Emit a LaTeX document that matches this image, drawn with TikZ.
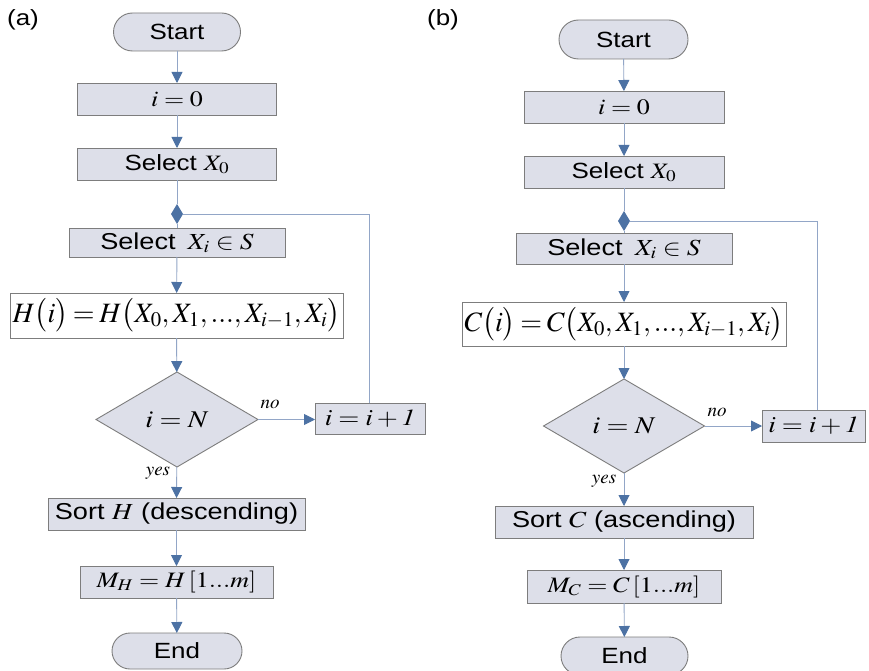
\documentclass[tikz,border=0pt]{standalone}
\usepackage{mathptmx}
\usepackage[no-math]{fontspec}
\setmainfont{Liberation Sans}
\usepackage{graphicx}
\usetikzlibrary{shapes.geometric,arrows.meta}
\definecolor{boxfill}{RGB}{221,223,233}
\definecolor{boxline}{RGB}{125,125,125}
\definecolor{conn}{RGB}{146,166,199}
\definecolor{tipc}{RGB}{77,114,164}
\newcommand{\wx}[1]{\scalebox{1.18}[1]{#1}}
\newcommand{\fs}[1]{\fontsize{#1}{#1}\selectfont}
\newcommand{\qe}{\mskip3mu{=}\mskip3mu}
\begin{document}
\begin{tikzpicture}[x=1pt,y=-1pt,
  every node/.style={font=\fs{22}, inner sep=0pt, outer sep=0pt},
  proc/.style={draw=boxline, fill=boxfill, line width=0.9pt, rectangle},
  term/.style={proc},
  dec/.style={proc, diamond, shape aspect=1.7},
  junc/.style={diamond, fill=tipc, minimum width=12, minimum height=20},
  lbl/.style={font=\fs{19}},
  conn/.style={draw=conn, line width=0.9pt},
  arr/.style={conn, -{Triangle[width=11pt,length=11pt,color=tipc]}}
]
\useasboundingbox (0,0) rectangle (869,671);
\fill[white] (0,0) rectangle (869,671);

% ---------------- panel (a)
\node (la) at (23,20) {\wx{(a)}};
\node[term, rounded corners=19, minimum width=127, minimum height=38] (sa) at (177,32) {\wx{Start}};
\node[proc, minimum width=199, minimum height=32] (ia) at (177,99) {\wx{$i=0$}};
\node[proc, minimum width=199, minimum height=32] (s0a) at (177,164) {\wx{Select $X_0$}};
\node[junc] (ja) at (177,214) {};
\node[proc, minimum width=216, minimum height=29] (sia) at (177,242.5) {\wx{\fs{23}Select\, $X_i\in S$}};
\node[proc, fill=white, minimum width=333, minimum height=45] (ha) at (176.5,315.5) {\fs{28}$H\bigl(i\bigr)\qe H\bigl(X_0,X_1,...,X_{i-1},X_i\bigr)$};
\node[dec, minimum width=162, minimum height=95] (da) at (177,419.5) {\wx{\fs{24}$i=N$}};
\node[proc, minimum width=110, minimum height=31] (inca) at (370,418.5) {\wx{\fs{23}$i=i+\mathit{1}$}};
\node[proc, minimum width=257, minimum height=32] (sorta) at (176.5,514) {\wx{\fs{23}Sort $H$ (descending)}};
\node[proc, minimum width=193, minimum height=32] (ma) at (176.5,582) {\wx{\fs{22}$M_H=H\,[1...m]$}};
\node[term, rounded corners=18, minimum width=130, minimum height=36] (ea) at (177,651) {\wx{End}};
\node[lbl] (noa) at (270,404) {$\mathit{no}$};
\node[lbl] (yesa) at (158,473) {$\mathit{yes}$};

\draw[arr] (sa) -- (ia);
\draw[arr] (ia) -- (s0a);
\draw[conn] (s0a) -- (ja);
\draw[conn] (ja) -- (sia);
\draw[arr] (sia) -- (ha);
\draw[arr] (ha) -- (da);
\draw[arr] (da.east) -- (inca.west |- da.east);
\draw[conn] ([xshift=-1]inca.north) |- (ja.east);
\draw[arr] (da) -- (sorta);
\draw[arr] (sorta) -- (ma);
\draw[arr] (ma) -- (ea);

% ---------------- panel (b)
\node (lb) at (443,20) {\wx{(b)}};
\node[term, rounded corners=19.5, minimum width=129, minimum height=39] (sb) at (623.5,39.5) {\wx{Start}};
\node[proc, minimum width=200, minimum height=32] (ib) at (624,107) {\wx{$i=0$}};
\node[proc, minimum width=200, minimum height=32] (s0b) at (624,172) {\wx{Select $X_0$}};
\node[junc] (jb) at (624,221) {};
\node[proc, minimum width=216, minimum height=31] (sib) at (624,248.5) {\wx{\fs{23}Select\, $X_i\in S$}};
\node[proc, fill=white, minimum width=324, minimum height=44] (cb) at (624,324) {\fs{28}$C\bigl(i\bigr)\qe C\bigl(X_0,X_1,...,X_{i-1},X_i\bigr)$};
\node[dec, minimum width=161, minimum height=94] (db) at (624,426) {\wx{\fs{24}$i=N$}};
\node[proc, minimum width=103, minimum height=32] (incb) at (813.5,426) {\wx{\fs{23}$i=i+\mathit{1}$}};
\node[proc, minimum width=258, minimum height=32] (sortb) at (624,522) {\wx{\fs{23}Sort $C$ (ascending)}};
\node[proc, minimum width=194, minimum height=33] (mb) at (624,586.5) {\wx{\fs{22}$M_C=C\,[1...m]$}};
\node[term, rounded corners=19, minimum width=127, minimum height=38] (eb) at (624.5,656) {\wx{End}};
\node[lbl] (nob) at (717,412) {$\mathit{no}$};
\node[lbl] (yesb) at (604,481) {$\mathit{yes}$};

\draw[arr] (sb) -- (ib);
\draw[arr] (ib) -- (s0b);
\draw[conn] (s0b) -- (jb);
\draw[conn] (jb) -- (sib);
\draw[arr] (sib) -- (cb);
\draw[arr] (cb) -- (db);
\draw[arr] (db.east) -- (incb.west |- db.east);
\draw[conn] ([xshift=3.5]incb.north) |- (jb.east);
\draw[arr] (db) -- (sortb);
\draw[arr] (sortb) -- (mb);
\draw[arr] (mb) -- (eb);
\end{tikzpicture}
\end{document}
